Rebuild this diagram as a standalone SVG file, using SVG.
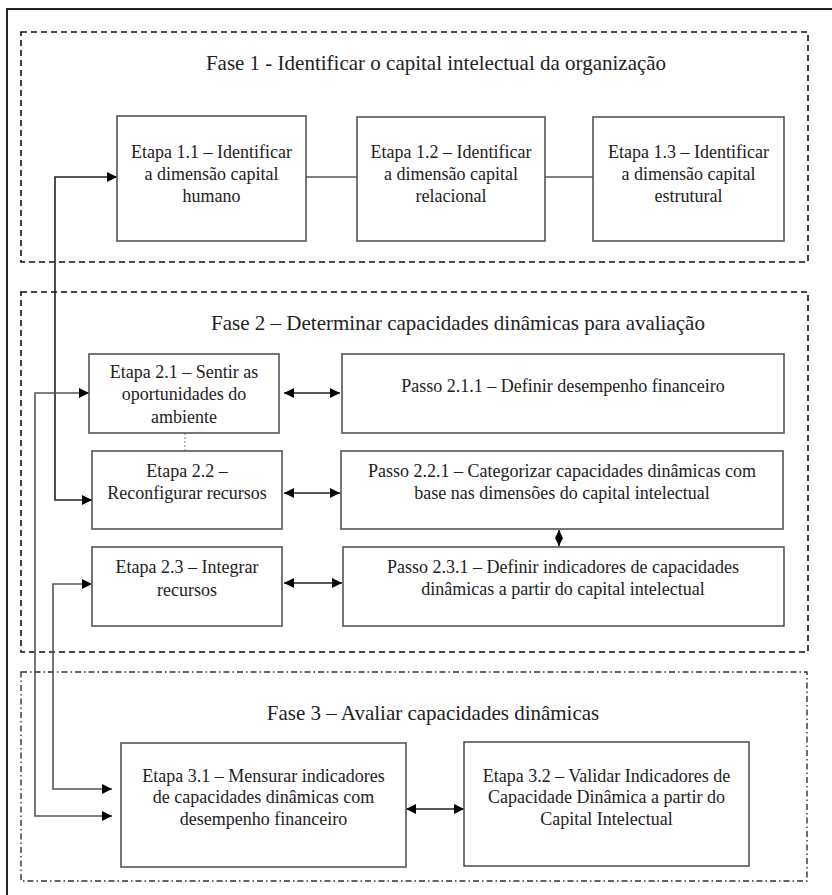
<svg xmlns="http://www.w3.org/2000/svg" width="832" height="895" viewBox="0 0 832 895">
<defs>
<marker id="ah" viewBox="0 0 10 10" refX="10" refY="5" markerWidth="10" markerHeight="10" markerUnits="userSpaceOnUse" orient="auto-start-reverse">
<path d="M0,0 L10,5 L0,10 z" fill="#000"/>
</marker>
<marker id="ahs" viewBox="0 0 10 10" refX="10" refY="5" markerWidth="8" markerHeight="8" markerUnits="userSpaceOnUse" orient="auto-start-reverse">
<path d="M0,0 L10,5 L0,10 z" fill="#000"/>
</marker>
<style>
.t{font-family:'Liberation Serif',Tinos,'Times New Roman','DejaVu Serif',serif;font-size:18px;fill:#222;text-anchor:middle}
.h{font-family:'Liberation Serif',Tinos,'Times New Roman','DejaVu Serif',serif;font-size:21px;fill:#222;text-anchor:middle}
.box{fill:#fff;stroke:#555;stroke-width:1.6}
.ph{fill:none;stroke:#111;stroke-width:1.6;stroke-dasharray:6 4}
.ph3{fill:none;stroke:#333;stroke-width:1.4;stroke-dasharray:6 3 1.5 3}
.c{fill:none;stroke:#222;stroke-width:1.6}
.cg{fill:none;stroke:#555;stroke-width:1.6}
</style>
</defs>
<rect width="832" height="895" fill="#fff"/>
<path d="M7,895 V9 H832" fill="none" stroke="#222" stroke-width="2"/>

<g id="fase1">
<rect class="ph" x="21" y="32" width="787" height="230"/>
<text class="h" x="436" y="70">Fase 1 - Identificar o capital intelectual da organização</text>
</g>
<g id="fase2">
<rect class="ph" x="21" y="292" width="787" height="360"/>
<text class="h" x="458" y="330">Fase 2 – Determinar capacidades dinâmicas para avaliação</text>
</g>
<g id="fase3">
<rect class="ph3" x="21" y="672" width="786" height="209"/>
<text class="h" x="433" y="720">Fase 3 – Avaliar capacidades dinâmicas</text>
</g>

<g id="connectors">
<line class="cg" x1="306" y1="177" x2="357" y2="177"/>
<line class="cg" x1="545" y1="177" x2="593" y2="177"/>
<line x1="185" y1="433" x2="185" y2="451" stroke="#999" stroke-width="1.2" stroke-dasharray="2 2"/>
<line class="c" x1="284" y1="393" x2="340" y2="393" marker-start="url(#ah)" marker-end="url(#ah)"/>
<line class="c" x1="284" y1="493" x2="340" y2="493" marker-start="url(#ah)" marker-end="url(#ah)"/>
<line class="c" x1="284" y1="583" x2="342" y2="583" marker-start="url(#ah)" marker-end="url(#ah)"/>
<line class="c" x1="559" y1="530" x2="559" y2="546" marker-start="url(#ahs)" marker-end="url(#ahs)"/>
<line class="c" x1="406" y1="809" x2="464" y2="809" marker-start="url(#ah)" marker-end="url(#ah)"/>
<path class="c" d="M117,177 H55 V500 H92" marker-start="url(#ah)" marker-end="url(#ah)"/>
<path class="cg" d="M89,393 H35 V816 H112" marker-start="url(#ah)" marker-end="url(#ah)"/>
<path class="cg" d="M92,584 H53 V789 H112" marker-start="url(#ah)" marker-end="url(#ah)"/>
</g>

<g id="e11">
<rect class="box" x="117" y="116" width="189" height="125"/>
<text class="t" x="211.5" y="158">Etapa 1.1 – Identificar</text>
<text class="t" x="211.5" y="180">a dimensão capital</text>
<text class="t" x="211.5" y="202">humano</text>
</g>
<g id="e12">
<rect class="box" x="357" y="117" width="188" height="124"/>
<text class="t" x="451" y="158">Etapa 1.2 – Identificar</text>
<text class="t" x="451" y="180">a dimensão capital</text>
<text class="t" x="451" y="202">relacional</text>
</g>
<g id="e13">
<rect class="box" x="593" y="117" width="191" height="124"/>
<text class="t" x="688.5" y="158">Etapa 1.3 – Identificar</text>
<text class="t" x="688.5" y="180">a dimensão capital</text>
<text class="t" x="688.5" y="202">estrutural</text>
</g>

<g id="e21">
<rect class="box" x="89" y="354" width="190" height="79"/>
<text class="t" x="184" y="378">Etapa 2.1 – Sentir as</text>
<text class="t" x="184" y="400">oportunidades do</text>
<text class="t" x="184" y="423">ambiente</text>
</g>
<g id="e22">
<rect class="box" x="92" y="451" width="190" height="78"/>
<text class="t" x="187" y="477">Etapa 2.2 –</text>
<text class="t" x="187" y="499">Reconfigurar recursos</text>
</g>
<g id="e23">
<rect class="box" x="92" y="547" width="190" height="79"/>
<text class="t" x="187" y="573">Etapa 2.3 – Integrar</text>
<text class="t" x="187" y="596">recursos</text>
</g>
<g id="p211">
<rect class="box" x="342" y="354" width="442" height="79"/>
<text class="t" x="563" y="392">Passo 2.1.1 – Definir desempenho financeiro</text>
</g>
<g id="p221">
<rect class="box" x="341" y="451" width="442" height="78"/>
<text class="t" x="562" y="477">Passo 2.2.1 – Categorizar capacidades dinâmicas com</text>
<text class="t" x="562" y="499">base nas dimensões do capital intelectual</text>
</g>
<g id="p231">
<rect class="box" x="343" y="547" width="441" height="79"/>
<text class="t" x="563" y="573">Passo 2.3.1 – Definir indicadores de capacidades</text>
<text class="t" x="563" y="595">dinâmicas a partir do capital intelectual</text>
</g>

<g id="e31">
<rect class="box" x="121" y="743" width="285" height="124"/>
<text class="t" x="263.5" y="782">Etapa 3.1 – Mensurar indicadores</text>
<text class="t" x="263.5" y="803">de capacidades dinâmicas com</text>
<text class="t" x="263.5" y="825">desempenho financeiro</text>
</g>
<g id="e32">
<rect class="box" x="464" y="742" width="285" height="124"/>
<text class="t" x="606.5" y="782">Etapa 3.2 – Validar Indicadores de</text>
<text class="t" x="606.5" y="803">Capacidade Dinâmica a partir do</text>
<text class="t" x="606.5" y="825">Capital Intelectual</text>
</g>
</svg>
